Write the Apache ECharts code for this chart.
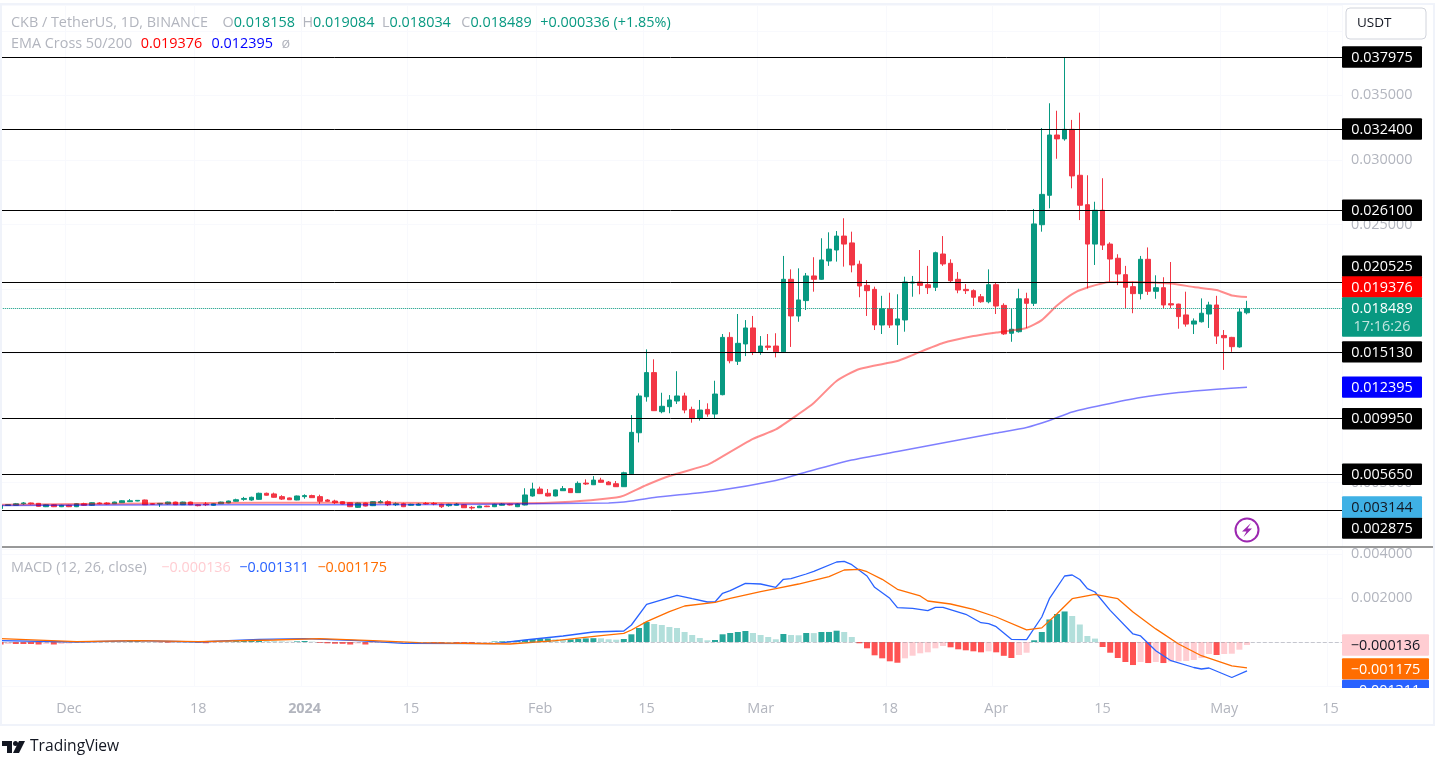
<!DOCTYPE html>
<html><head><meta charset="utf-8"><style>html,body{margin:0;padding:0;background:#fff}#c{width:1436px;height:757px}</style>
<script src="https://cdn.jsdelivr.net/npm/echarts@6/dist/echarts.min.js"></script></head><body><div id="c"></div>
<script>
const FONT='"Open Sans",sans-serif';
const FS=14.4;
const startDate=Date.UTC(2023,10,22);
const dayCount=177;
const categories=[];for(let k=0;k<dayCount;k++){categories.push(new Date(startDate+k*864e5).toISOString().slice(0,10));}
const tickDates=['2023-12-01','2023-12-18','2024-01-01','2024-01-15','2024-02-01','2024-02-15','2024-03-01','2024-03-18','2024-04-01','2024-04-15','2024-05-01','2024-05-15'];
const tickTexts=['Dec','18','2024','15','Feb','15','Mar','18','Apr','15','May','15'];
const opens=[.00298,.00322,.00324,.00336,.00342,.00339,.00313,.00328,.00313,.00324,.00313,.00336,.00324,.00342,.00342,.00336,.00344,.00352,.00357,.00365,.00336,.00334,.00334,.00349,.00328,.00349,.00328,.00334,.00324,.00336,.00342,.00355,.0037,.00365,.0037,.00417,.00412,.00391,.00381,.00365,.00391,.00399,.00391,.00365,.00357,.00352,.00344,.00308,.00342,.00321,.00344,.00352,.00328,.00336,.00324,.00324,.00339,.00339,.00332,.00321,.00324,.00328,.00308,.00305,.00318,.00313,.00324,.00332,.00313,.00326,.00396,.0045,.00417,.00396,.00437,.00453,.00422,.00496,.00483,.00519,.00504,.00491,.00468,.00568,.00886,.01165,.01352,.01049,.01088,.01132,.01171,.01067,.00998,.01067,.01031,.01181,.01625,.0144,.01574,.01698,.01511,.01558,.01558,.01513,.02075,.01791,.0191,.02101,.02075,.02217,.02302,.0241,.02357,.02192,.02028,.01997,.01721,.01847,.01721,.0176,.02046,.02054,.02033,.02013,.02271,.02199,.02075,.01997,.01987,.0194,.01901,.02033,.01873,.01657,.01669,.01924,.01889,.02498,.02726,.03193,.03163,.03237,.02881,.02653,.02348,.0261,.02348,.02238,.02111,.02018,.01964,.0223,.01982,.0201,.01886,.01883,.01799,.01728,.01746,.01806,.01876,.0164,.01625,.01551,.018158];
const closes=[.00322,.00329,.00336,.00342,.00336,.00316,.00328,.00313,.00324,.00313,.00336,.00324,.00344,.00336,.00334,.00349,.00359,.00359,.00362,.00328,.00332,.00339,.00349,.00328,.00349,.00328,.00321,.00328,.00336,.00349,.00357,.00367,.00377,.00386,.00417,.00402,.00386,.00372,.00367,.00396,.00399,.00383,.00355,.00355,.00344,.00334,.00313,.00342,.00318,.00352,.00352,.00328,.00336,.00313,.00332,.00334,.00334,.00334,.00313,.00332,.00334,.00305,.00303,.00318,.00313,.00332,.00334,.00326,.00334,.00404,.0045,.00414,.00396,.00443,.00453,.00422,.00494,.00489,.00519,.00502,.00483,.00468,.00576,.00889,.01171,.01352,.01057,.01091,.0114,.01171,.01062,.00998,.01062,.01031,.01186,.01625,.01444,.01579,.01698,.01511,.01558,.01548,.01513,.02075,.01791,.01915,.02101,.02075,.02225,.02309,.0241,.02348,.02186,.02023,.01987,.01721,.01847,.01721,.01768,.02054,.02054,.02028,.0201,.02281,.02194,.02064,.01992,.01987,.01936,.01901,.02033,.01868,.01652,.01688,.01924,.01889,.02504,.02733,.03193,.03163,.03237,.02876,.02649,.02348,.0261,.0234,.02232,.02116,.02013,.01964,.0223,.01982,.0201,.01876,.01876,.01786,.01728,.01752,.01812,.01876,.01635,.01622,.01553,.01822,.018489];
const highs=[.00322,.00332,.00342,.00349,.00345,.00342,.00332,.00332,.00328,.00328,.0034,.00344,.00348,.00348,.00348,.00352,.00363,.00372,.00364,.00368,.0034,.00342,.00352,.00352,.00352,.00352,.00332,.00349,.0034,.00352,.0036,.00375,.00389,.00391,.00422,.00422,.00422,.00402,.00384,.00399,.00409,.00406,.00406,.00372,.00367,.00356,.00348,.00345,.00345,.00356,.00365,.00362,.00347,.00344,.00336,.00342,.00349,.00349,.00336,.00336,.00342,.00332,.00318,.00321,.00321,.00336,.00342,.00336,.00338,.00456,.00499,.00468,.0045,.00446,.00473,.00458,.00509,.00525,.0055,.00537,.00512,.00512,.00584,.01023,.01191,.01532,.01455,.01196,.01178,.01363,.01196,.01088,.0114,.01114,.01289,.01651,.01665,.01806,.01759,.01791,.01635,.01651,.01657,.02256,.02152,.0216,.02124,.02246,.02393,.02439,.02449,.02548,.02444,.0222,.02069,.02018,.01947,.01971,.01959,.02095,.02101,.02302,.02179,.02289,.0241,.0223,.02131,.02038,.01997,.01961,.02152,.02054,.01889,.01847,.02002,.01971,.0262,.03247,.03439,.03381,.03797,.0331,.03366,.02881,.02676,.02858,.02362,.02269,.02179,.02056,.02256,.02322,.02106,.02091,.02209,.01886,.01979,.01772,.01927,.01901,.01947,.01682,.01629,.0185,.019084];
const lows=[.00298,.0032,.00324,.00328,.0033,.00313,.0031,.0031,.0031,.0031,.0031,.0032,.0032,.00332,.0033,.00334,.00342,.00349,.00355,.00326,.00328,.00311,.0033,.00326,.00326,.00326,.00316,.00318,.0032,.00334,.0034,.00352,.00359,.00359,.00367,.00399,.00383,.00365,.00365,.00363,.00375,.00381,.00334,.00352,.00334,.00332,.0031,.00303,.00315,.00318,.00339,.00318,.00318,.0031,.00321,.00321,.0033,.00324,.00303,.00313,.00321,.00303,.0029,.00303,.0031,.0031,.00321,.00323,.0031,.00323,.00391,.00411,.00393,.00393,.00435,.00419,.00419,.00481,.00481,.00499,.00481,.00466,.00466,.00566,.00811,.01127,.01055,.01037,.01037,.01109,.01037,.00964,.0098,.0101,.00998,.01176,.01424,.01411,.0148,.01488,.0149,.01526,.0147,.01508,.01551,.01746,.01837,.01979,.02071,.02179,.02212,.02173,.02129,.01936,.01791,.01682,.01651,.01698,.01566,.01669,.0194,.01959,.01961,.01984,.02179,.02052,.01967,.01961,.01868,.01893,.01889,.01806,.01644,.01591,.01662,.01698,.01868,.02444,.02625,.03009,.03149,.0278,.02534,.02005,.02186,.02302,.02056,.0203,.0185,.01812,.01919,.01954,.01924,.0185,.0185,.01692,.01708,.01651,.0174,.01698,.01574,.01373,.01513,.01545,.018034];
const ema50Days=[0,20,35,50,65,68,75,81,82,85,88,93,94,99,102,105,107,110,113,118,120,124,128,131,135,137,139,141,143,146,149,154,157,160,162,164];
const ema50=[.00328,.00338,.00343,.00344,.00339,.00339,.00352,.00385,.00399,.00481,.00551,.00637,.00668,.00838,.00912,.01031,.01117,.01287,.0138,.01442,.01488,.01581,.01635,.01663,.01698,.01759,.01872,.01961,.02011,.02054,.02054,.02042,.02015,.01992,.0195,.019376];
const ema200Days=[0,30,60,80,82,86,94,102,106,112,118,125,131,135,138,141,145,150,155,160,164];
const ema200=[.00322,.00328,.0033,.00342,.00349,.00385,.00435,.00516,.00582,.00675,.00741,.00819,.00884,.00927,.00981,.01047,.01101,.01159,.01198,.01224,.012395];
const macdHist=[-.000114,-.000091,-.000091,-.000091,-.000091,-.000114,-.000091,-.000114,-.000091,-.000068,-.000045,-.000032,-.000023,-.000014,.000014,.000023,.000023,.000045,.000059,.000036,.000023,-.000014,-.000032,-.000023,-.000014,.000009,-.000036,-.000055,-.000036,-.000014,.000023,.000041,.000055,.000064,.000073,.000055,.000041,.000032,.000018,.000027,.000045,.000018,-.000036,-.000059,-.000077,-.000082,-.000114,-.000068,-.000114,-.000045,-.000036,-.000032,-.000023,-.000018,-.000018,-.000023,-.000023,-.000045,-.000045,-.000036,-.000059,-.000064,-.000068,-.000045,-.000032,.000023,.000032,.000036,.000055,.000091,.000137,.000146,.000159,.000123,.000105,.000118,.000137,.000164,.000173,.000168,.000123,.000105,.000137,.00035,.000637,.00091,.000819,.000774,.000683,.000637,.000455,.000319,.000182,.000077,.000091,.00035,.00041,.000455,.000501,.00041,.000319,.000228,.000123,.000364,.000319,.000305,.00041,.000405,.000455,.000456,.000514,.000455,.000228,-.000059,-.000287,-.000605,-.000742,-.000878,-.000942,-.000742,-.000623,-.000514,-.000469,-.000287,-.000182,-.000241,-.000332,-.000378,-.000423,-.000469,-.000423,-.000469,-.000628,-.000728,-.000591,-.000487,.000077,.000455,.001024,.001274,.001388,.001183,.000796,.000273,.000155,-.000228,-.000487,-.000728,-.00091,-.001047,-.00091,-.000956,-.00091,-.000956,-.000887,-.000878,-.000865,-.000819,-.000728,-.000546,-.000592,-.000546,-.000532,-.00035,-.000136];
const macdDays=[0,10,18,26,34,40,47,53,65,69,74,78,82,83,85,89,91,93,94,95,96,98,100,102,103,104,106,107,110,111,112,114,115,117,118,120,122,123,124,127,129,130,131,133,135,137,138,140,141,142,143,144,146,149,150,152,154,157,158,159,162,164];
const macdLine=[.000059,0,.000059,0,.000123,.00015,.000059,-.000059,-.000077,.000091,.000273,.000455,.0005,.000773,.001714,.002123,.001968,.001818,.001818,.002214,.002332,.002668,.002636,.002486,.00285,.002877,.003091,.003214,.003636,.003668,.003514,.003,.002486,.001986,.001559,.001532,.001423,.001577,.001577,.001259,.000877,.000832,.000695,.000123,.000109,.001136,.001968,.003,.003045,.002841,.002427,.002273,.001436,.000364,.000273,-.000395,-.00085,-.001159,-.001227,-.001182,-.001614,-.001311];
const signalDays=[0,10,18,26,36,42,49,55,67,73,79,82,83,85,88,90,94,96,100,102,105,109,111,113,114,116,118,121,122,125,128,131,135,137,139,141,144,147,149,152,155,158,162,164];
const signalLine=[.00015,.000014,.000059,.000014,.000091,.00015,.000059,-.000032,-.000091,.000059,.000286,.000395,.000545,.000923,.001377,.001636,.001805,.001986,.002286,.002423,.002636,.002968,.003273,.003305,.003195,.00285,.002395,.002091,.001864,.001727,.001486,.001136,.00055,.000641,.001282,.001968,.002168,.001968,.001364,.000595,-.000091,-.000623,-.001082,-.001175];
const levels=[.037975,.0324,.0261,.020525,.01513,.00995,.00565,.002875];
const lastClose=.018489, ema50Last=.019376, ema200Last=.012395, symbolPrice=.003144;
const macdLast=-.001311, signalLast=-.001175, histLast=-.000136;
const countdown='17:16:26';

const sparse=(days,vals)=>{const a=new Array(dayCount).fill(null);days.forEach((d,k)=>{a[d]=vals[k];});return a;};
const fmt=v=>v.toFixed(6);
const minus=v=>'\u2212'+Math.abs(v).toFixed(6);
const isTick=v=>tickDates.indexOf(v)>=0;
const GREEN='#089981',RED='#f23645',GREY='#b2b5be';
const tick={interval:(i,v)=>isTick(v)};
const rs=(c,pad)=>({color:c,fontFamily:FONT,fontSize:FS,padding:[0,0,0,pad||0]});
const chart=echarts.init(document.getElementById('c'),null,{renderer:'canvas'});
const option={animation:false,backgroundColor:'#fff',
 title:[
  {left:11,top:16,padding:0,text:'CKB / TetherUS, 1D, BINANCE  {o|O}{t|0.018158}  {g|H}{t|0.019084}  {g|L}{t|0.018034}  {c|C}{t|0.018489}  {p|+0.000336 (+1.85%)}',textStyle:{fontFamily:FONT,fontSize:FS,fontWeight:400,color:GREY,rich:{o:rs(GREY,7),g:rs(GREY),c:rs(GREY,3),t:rs(GREEN),p:rs(GREEN,1)}}},
  {left:11,top:37,padding:0,text:'EMA Cross 50/200  {r|0.019376}  {b|0.012395}  {g|\u00f8}',textStyle:{fontFamily:FONT,fontSize:FS,fontWeight:400,color:GREY,rich:{r:rs('#ff0000',1),b:rs('#0000ff',2),g:rs(GREY,1)}}},
  {left:11,top:561,padding:0,text:'MACD (12, 26, close)  {p|\u22120.000136}  {b|\u22120.001311}  {o|\u22120.001175}',textStyle:{fontFamily:FONT,fontSize:FS,fontWeight:400,color:GREY,rich:{p:rs('#ffcdd2',7),b:rs('#2962ff',1),o:rs('#ff6d00',1)}}},
  {left:30,top:739,padding:0,text:'TradingView',textStyle:{fontFamily:FONT,fontSize:15.6,fontWeight:400,color:'#131722'}}
 ],
 grid:[{left:-3.2,width:1345.2,top:5.05,height:542.05,outerBoundsMode:'none'},{left:-3.2,width:1345.2,top:549.6,height:136.4,outerBoundsMode:'none'}],
 xAxis:[
  {type:'category',gridIndex:0,data:categories,boundaryGap:true,axisLine:{show:false},axisTick:{show:false},axisLabel:{show:false},splitLine:{show:true,interval:tick.interval,lineStyle:{color:'#f8f9fd'}}},
  {type:'category',gridIndex:1,data:categories,boundaryGap:true,axisLine:{show:false},axisTick:{show:false},splitLine:{show:true,interval:tick.interval,lineStyle:{color:'#f8f9fd'}},
   axisLabel:{interval:tick.interval,hideOverlap:false,margin:16,fontFamily:FONT,fontSize:FS,color:GREY,
    formatter:v=>{const t=tickTexts[tickDates.indexOf(v)];return t==='2024'?'{b|2024}':t;},rich:{b:{fontWeight:700,color:GREY,fontFamily:FONT,fontSize:FS}}}}
 ],
 yAxis:[
  {type:'value',gridIndex:0,position:'right',min:0,max:.042,interval:.005,axisLine:{show:false},axisTick:{show:false},splitLine:{show:true,lineStyle:{color:'#f8f9fd'}},
   axisLabel:{margin:9,padding:[2,0,0,0],fontFamily:FONT,fontSize:FS,color:GREY,showMinLabel:false,showMaxLabel:false,formatter:v=>(v>0&&v<.0405)?fmt(v):''}},
  {type:'value',gridIndex:1,position:'right',min:-.002,max:.0042,interval:.002,axisLine:{show:false},axisTick:{show:false},splitLine:{show:true,lineStyle:{color:'#f8f9fd'}},
   axisLabel:{margin:9,padding:[2,0,0,0],fontFamily:FONT,fontSize:FS,color:GREY,showMinLabel:false,showMaxLabel:false,formatter:v=>v>0.001?fmt(v):''}}
 ],
 series:[
  {type:'candlestick',name:'CKB / TetherUS',xAxisIndex:0,yAxisIndex:0,barWidth:5,data:opens.map((o,k)=>[o,closes[k],lows[k],highs[k]]),
   itemStyle:{color:GREEN,color0:RED,borderColor:GREEN,borderColor0:RED,borderWidth:1},
   markLine:{silent:true,symbol:'none',animation:false,precision:6,label:{show:false},lineStyle:{color:'#000',width:1,type:'solid'},
    data:levels.map(v=>({yAxis:v})).concat([{yAxis:lastClose,lineStyle:{color:GREEN,type:'dotted',width:1}}])}},
  {type:'line',name:'EMA 50',xAxisIndex:0,yAxisIndex:0,data:sparse(ema50Days,ema50),connectNulls:true,smooth:.2,showSymbol:false,symbol:'none',lineStyle:{color:'rgba(255,0,0,.45)',width:2}},
  {type:'line',name:'EMA 200',xAxisIndex:0,yAxisIndex:0,data:sparse(ema200Days,ema200),connectNulls:true,smooth:.2,showSymbol:false,symbol:'none',lineStyle:{color:'rgba(0,0,255,.5)',width:1.5}},
  {type:'bar',name:'Histogram',xAxisIndex:1,yAxisIndex:1,barWidth:6,data:macdHist,
   itemStyle:{color:p=>{const v=p.value,prev=p.dataIndex?macdHist[p.dataIndex-1]:0;return v>=0?(v>=prev?'#26a69a':'#b2dfdb'):(v<=prev?'#ff5252':'#ffcdd2');}},
   markLine:{silent:true,symbol:'none',animation:false,precision:6,label:{show:false},lineStyle:{color:'rgba(120,123,134,.4)',width:1,type:'dashed'},data:[{yAxis:0}]}},
  {type:'line',name:'MACD',xAxisIndex:1,yAxisIndex:1,data:sparse(macdDays,macdLine),connectNulls:true,showSymbol:false,symbol:'none',lineStyle:{color:'#2962ff',width:1.3}},
  {type:'line',name:'Signal',xAxisIndex:1,yAxisIndex:1,data:sparse(signalDays,signalLine),connectNulls:true,showSymbol:false,symbol:'none',lineStyle:{color:'#ff6d00',width:1.3}}
 ]};
chart.setOption(option);

const yTop=v=>chart.convertToPixel({yAxisIndex:0},v), yLow=v=>chart.convertToPixel({yAxisIndex:1},v);
const TAGX=1342,TAGW=80;
const tag=(text,yc,bg,fg,w)=>{const width=w||TAGW;return [
 {type:'rect',z:50,shape:{x:TAGX,y:yc-10.7,width,height:21.4,r:1},style:{fill:bg}},
 {type:'text',z:51,style:{x:TAGX+width/2,y:yc+.7,text,fill:fg,font:FS+'px '+FONT,textAlign:'center',textVerticalAlign:'middle'}}];};
const tagNudge={0.020525:-16,0.002875:18};
let els=[];
levels.forEach(v=>{els=els.concat(tag(fmt(v),yTop(v)+(tagNudge[v]||0),'#000','#fff'));});
els=els.concat(tag(fmt(ema50Last),yTop(ema50Last)-10,'#ff0000','#fff'));
els=els.concat(tag(fmt(ema200Last),yTop(ema200Last),'#0000ff','#fff'));
els=els.concat(tag(fmt(symbolPrice),507,'#3fb1e5','#131722'));
els.push({type:'rect',z:50,shape:{x:TAGX,y:297.3,width:TAGW,height:39.4,r:1},style:{fill:GREEN}});
els.push({type:'text',z:51,style:{x:TAGX+TAGW/2,y:308.7,text:fmt(lastClose),fill:'#fff',font:FS+'px '+FONT,textAlign:'center',textVerticalAlign:'middle'}});
els.push({type:'text',z:51,style:{x:TAGX+TAGW/2,y:326.7,text:countdown,fill:'rgba(255,255,255,.75)',font:FS+'px '+FONT,textAlign:'center',textVerticalAlign:'middle'}});
els=els.concat(tag(minus(histLast),yLow(histLast),'#ffcdd2','#131722',87));
els=els.concat(tag(minus(signalLast),yLow(signalLast)+1,'#ff6d00','#fff',87));
els=els.concat(tag(minus(macdLast),yLow(macdLast)+19.5,'#2962ff','#fff',87));
els.push({type:'rect',z:60,shape:{x:TAGX-1,y:688,width:90,height:14},style:{fill:'#fff'}});
// pane separator and frame
els.push({type:'line',z:40,shape:{x1:2,y1:547,x2:1434,y2:547},style:{stroke:'#777',lineWidth:1.5}});
els.push({type:'rect',z:70,shape:{x:1,y:4,width:1433,height:721},style:{fill:'none',stroke:'#f0f3fa',lineWidth:2}});
// currency button
els.push({type:'rect',z:55,shape:{x:1346,y:8,width:80,height:31,r:4},style:{fill:'#fff',stroke:'#d1d4dc',lineWidth:1}});
els.push({type:'text',z:56,style:{x:1357,y:23.5,text:'USDT',fill:'#131722',font:'13.5px '+FONT,textVerticalAlign:'middle'}});
// lightning badge
els.push({type:'circle',z:30,shape:{cx:1247,cy:530,r:11.5},style:{fill:'#fff',stroke:'#9c27b0',lineWidth:2}});
els.push({type:'polygon',z:31,shape:{points:[[1251,523],[1242,531.5],[1246.5,531.5],[1243.5,537],[1252,528.5],[1247.5,528.5]]},style:{fill:'#9c27b0'}});
// logo
els.push({type:'polygon',z:30,shape:{points:[[2,741],[12,741],[12,753],[7,753],[7,746],[2,746]]},style:{fill:'#131722'}});
els.push({type:'circle',z:30,shape:{cx:15.5,cy:743.5,r:2.5},style:{fill:'#131722'}});
els.push({type:'polygon',z:30,shape:{points:[[19,741],[25,741],[19,753],[13,753]]},style:{fill:'#131722'}});
chart.setOption({graphic:{elements:els}});
</script></body></html>
